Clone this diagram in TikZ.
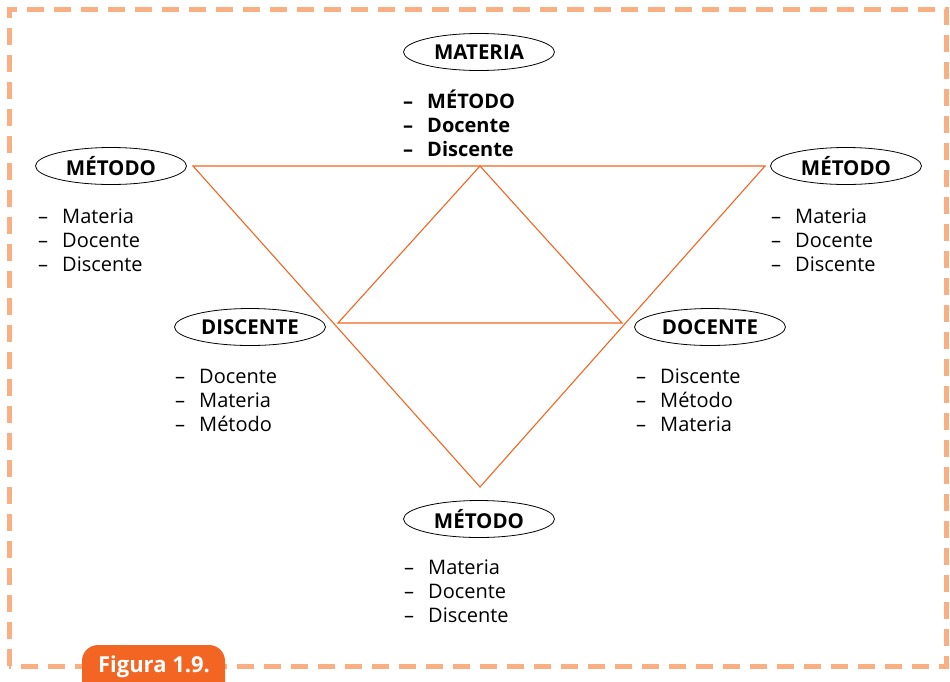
\documentclass[tikz,border=0pt]{standalone}
\usepackage{fontspec}
\setmainfont{Open Sans}
\usetikzlibrary{shapes.geometric}

\definecolor{naranja}{RGB}{242,101,34}
\definecolor{naranjaclaro}{RGB}{250,175,130}

\begin{document}
\begin{tikzpicture}[
			x=1pt, y=-1pt,
			tema/.style={draw, ellipse, line width=0.8pt, minimum width=151pt, minimum height=37pt, inner sep=0pt, font=\bfseries\fontsize{20.5}{20.5}\selectfont},
			punto/.style={anchor=base west, inner sep=0pt, font=\fontsize{20}{24}\selectfont},
			puntob/.style={punto, font=\bfseries\fontsize{20}{24}\selectfont},
			lado/.style={draw=naranja, line width=1.1pt},
			marco/.style={draw=naranjaclaro, line width=5pt, dash pattern=on 17pt off 10pt},
			]

			\newcommand{\guion}{\makebox[24pt][l]{--}}
			\newcommand{\paso}{24}

			\useasboundingbox (0,0) rectangle (950,681);

			% marco
			\draw [marco] (9,666) -- (9,9) -- (946,9) -- (946,666) -- cycle;
			\fill [naranja, rounded corners=16pt] (82,645) rectangle (225,705);
			\node [text=white, font=\bfseries\fontsize{22}{22}\selectfont, anchor=base] (fig) at (154,672) {Figura 1.9.};

			% triangulos
			\coordinate (ti) at (193,166);
			\coordinate (td) at (765,166);
			\coordinate (ab) at (480,487);
			\coordinate (ci) at (338,323);
			\coordinate (cd) at (622,323);
			\coordinate (ap) at (480,166);
			\draw [lado] (ti) -- (td) -- (ab) -- cycle;
			\draw [lado] (ci) -- (ap) -- (cd) -- cycle;

			% elipses
			\node [tema] (materia)  at (479,52)  {MATERIA};
			\node [tema] (metodoi)  at (111,166) {MÉTODO};
			\node [tema] (metodod)  at (846,166) {MÉTODO};
			\node [tema] (discente) at (250,327) {DISCENTE};
			\node [tema] (docente)  at (710,327) {DOCENTE};
			\node [tema] (metodoa)  at (479,519) {MÉTODO};

			% listas
			\node [puntob] (materia-1) at (403,{108+0*\paso}) {\guion MÉTODO};
			\node [puntob] (materia-2) at (403,{108+1*\paso}) {\guion Docente};
			\node [puntob] (materia-3) at (403,{108+2*\paso}) {\guion Discente};

			\node [punto] (metodoi-1) at (38,{223+0*\paso}) {\guion Materia};
			\node [punto] (metodoi-2) at (38,{223+1*\paso}) {\guion Docente};
			\node [punto] (metodoi-3) at (38,{223+2*\paso}) {\guion Discente};

			\node [punto] (metodod-1) at (771,{223+0*\paso}) {\guion Materia};
			\node [punto] (metodod-2) at (771,{223+1*\paso}) {\guion Docente};
			\node [punto] (metodod-3) at (771,{223+2*\paso}) {\guion Discente};

			\node [punto] (discente-1) at (175,{383+0*\paso}) {\guion Docente};
			\node [punto] (discente-2) at (175,{383+1*\paso}) {\guion Materia};
			\node [punto] (discente-3) at (175,{383+2*\paso}) {\guion Método};

			\node [punto] (docente-1) at (636,{383+0*\paso}) {\guion Discente};
			\node [punto] (docente-2) at (636,{383+1*\paso}) {\guion Método};
			\node [punto] (docente-3) at (636,{383+2*\paso}) {\guion Materia};

			\node [punto] (metodoa-1) at (404,{574+0*\paso}) {\guion Materia};
			\node [punto] (metodoa-2) at (404,{574+1*\paso}) {\guion Docente};
			\node [punto] (metodoa-3) at (404,{574+2*\paso}) {\guion Discente};

		\end{tikzpicture}
\end{document}
